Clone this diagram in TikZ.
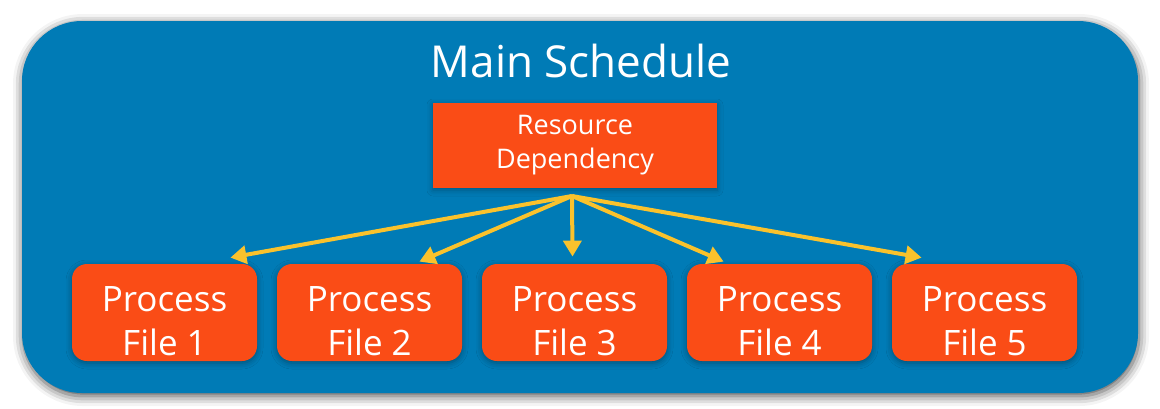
\documentclass[tikz,border=0pt]{standalone}
\usepackage{fontspec}
\setmainfont{Open Sans}
\usepackage{tikz}
\usetikzlibrary{positioning,calc,arrows.meta,shadows.blur}
\definecolor{schedblue}{RGB}{0,123,182}
\definecolor{procorange}{RGB}{250,76,22}
\definecolor{arrowyellow}{RGB}{250,194,44}
\tikzset{
	mainbox/.style={fill=schedblue,rounded corners=30pt,
		blur shadow={shadow xshift=0.5pt,shadow yshift=-1.5pt,shadow blur radius=5pt,shadow opacity=70}},
	resbox/.style={fill=procorange,minimum width=142pt,minimum height=42.5pt,inner sep=0pt,
		blur shadow={shadow xshift=0pt,shadow yshift=-1pt,shadow blur radius=3pt,shadow opacity=30}},
	procbox/.style={fill=procorange,rounded corners=7.5pt,minimum width=92.5pt,minimum height=48.5pt,inner sep=0pt,
		blur shadow={shadow xshift=0pt,shadow yshift=-1pt,shadow blur radius=3pt,shadow opacity=35}},
	proctext/.style={text=white,align=center,font=\fontsize{17.5pt}{22pt}\selectfont,inner sep=0pt},
	dep/.style={arrowyellow,line width=2pt,-{Triangle[length=8pt,width=9pt]}}
}

\begin{document}
\begin{tikzpicture}[x=0.5pt,y=-0.5pt]
	\useasboundingbox (0,0) rectangle (1160,408);
	
	%Cadre principal
	\fill[mainbox] (22,21) rectangle (1138,393);
	\node[text=white,font=\fontsize{22pt}{26pt}\selectfont] (title) at (581,61) {Main Schedule};
	
	%Ressource
	\node[resbox,text=white,align=center,font=\fontsize{13.5pt}{17pt}\selectfont] (res) at (575,145.5) {Resource\\Dependency};
	\coordinate (src) at (572,196);
	
	%Fichiers
	\foreach \i in {1,...,5}{
		\node[procbox] (p\i) at ({164.5+205*(\i-1)},312.5) {};
		\node[proctext] (t\i) at ([yshift=-4.5pt]p\i.center) {Process\\File \i};
	}
	
	%Fleches
	\draw[dep] (src) -- ([xshift=-13.5pt,yshift=3pt]p1.north east);
	\draw[dep] (src) -- ([xshift=-21.5pt,yshift=1pt]p2.north east);
	\draw[dep] (src) -- ([xshift=-1pt,yshift=3.5pt]p3.north);
	\draw[dep] (src) -- ([xshift=18.5pt,yshift=1pt]p4.north west);
	\draw[dep] (src) -- ([xshift=15pt,yshift=3pt]p5.north west);
\end{tikzpicture}
\end{document}
